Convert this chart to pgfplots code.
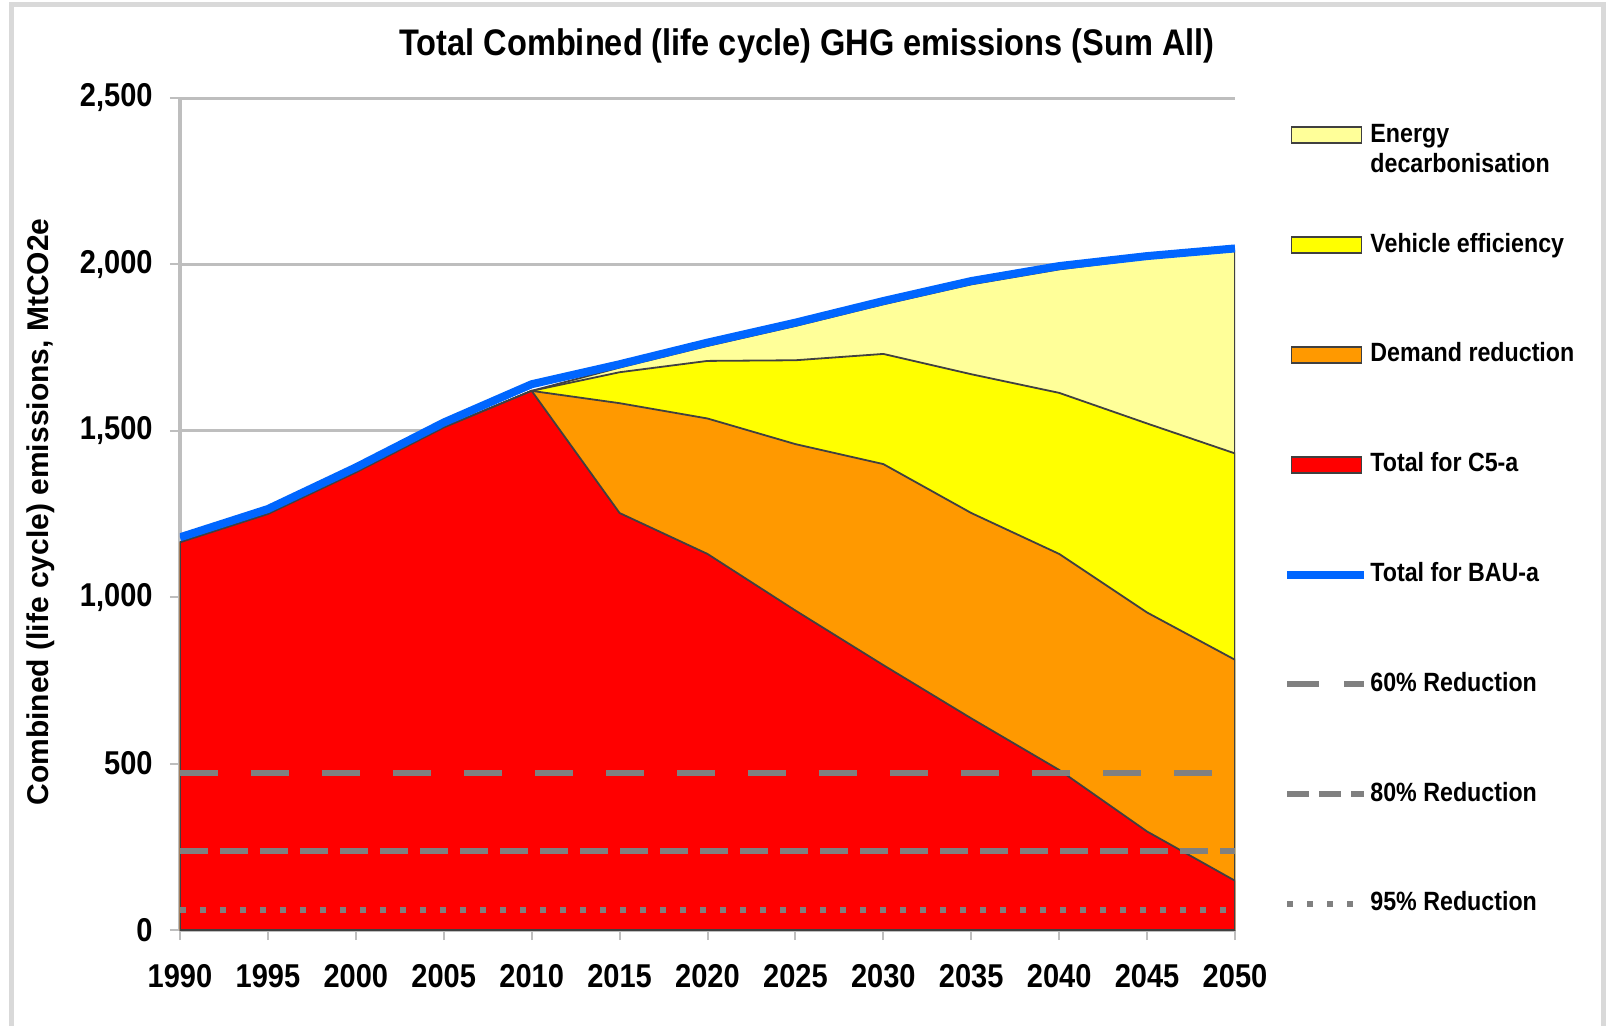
\documentclass[border=0pt]{standalone}
\usepackage{fontspec}
\setmainfont{Liberation Sans}[FakeStretch=0.88]
\newfontfamily\ylabfont{Liberation Sans}
\usepackage{pgfplots}
\usepackage{pgfplotstable}
\pgfplotsset{compat=1.18}

\definecolor{bau}{RGB}{0,102,255}
\definecolor{lyel}{RGB}{255,255,153}
\definecolor{yel}{RGB}{255,255,0}
\definecolor{ora}{RGB}{255,153,0}
\definecolor{redc}{RGB}{255,0,0}
\definecolor{redln}{RGB}{128,128,128}
\definecolor{axgray}{RGB}{190,190,190}

% tops of the stacked areas, MtCO2e
\pgfplotstableread{
year bau  energy vehicle demand c5
1990 1180 1165   1165    1165   1165
1995 1265 1250   1250    1250   1250
2000 1390 1375   1375    1375   1375
2005 1525 1510   1510    1510   1510
2010 1640 1620   1620    1620   1620
2015 1700 1690   1676    1583   1253
2020 1765 1755   1710    1537   1130
2025 1825 1815   1712    1460   960
2030 1890 1880   1731    1400   796
2035 1950 1940   1670    1253   636
2040 1995 1985   1614    1130   481
2045 2025 2018   1522    954    296
2050 2048 2040   1432    812    148
}\ghg

\pgfplotsset{
  arealeg/.style={legend image code/.code={\draw[##1] (2pt,-4pt) rectangle (37pt,4pt);}},
  lineleg/.style={legend image code/.code={\draw[##1] (0pt,0pt) -- (38.5pt,0pt);}},
  dashleg/.style={legend image code/.code={\draw[##1, dash pattern=#1] (0pt,0pt) -- (38.5pt,0pt);}},
}

\begin{document}
\begin{tikzpicture}
\begin{axis}[
  at={(0,0)}, anchor=south west,
  scale only axis, width=527.5pt, height=416pt,
  xmin=1990, xmax=2050, ymin=0, ymax=2500,
  xtick={1990,1995,...,2050}, ytick={0,500,...,2500},
  axis x line*=bottom, axis y line*=left,
  x axis line style={-, draw=axgray, line width=1pt},
  y axis line style={-, draw=axgray, line width=2pt},
  tick align=outside, major tick length=5pt,
  tick style={axgray, line width=1pt},
  ymajorgrids, grid style={axgray, line width=1.5pt},
  xticklabel style={font=\bfseries\fontsize{16.5}{18}\selectfont, anchor=center, yshift=-18pt,
    /pgf/number format/1000 sep={}, /pgf/number format/assume math mode=true},
  yticklabel style={font=\bfseries\fontsize{16.5}{18}\selectfont, anchor=east, inner sep=0pt, xshift=-8.5pt,
    /pgf/number format/1000 sep={,}, /pgf/number format/assume math mode=true},
  legend cell align=left,
  legend style={at={(1.0455,0.976)}, anchor=north west, draw=none, fill=none, inner sep=0pt,
    row sep=37.9pt, font=\bfseries\fontsize{13.2}{15}\selectfont,
    nodes={inner xsep=1pt, inner ysep=2pt, text height=10pt, text depth=3pt},
    cells={anchor=west}},
]
\addplot[arealeg, fill=lyel, draw=black!75, line width=0.9pt] table[x=year, y=energy]{\ghg} \closedcycle;
\addlegendentry{\begin{tabular}[t]{@{}l@{}}Energy\\decarbonisation\end{tabular}}
\addplot[arealeg, fill=yel, draw=black!75, line width=0.9pt] table[x=year, y=vehicle]{\ghg} \closedcycle;
\addlegendentry{Vehicle efficiency}
\addplot[arealeg, fill=ora, draw=black!75, line width=0.9pt] table[x=year, y=demand]{\ghg} \closedcycle;
\addlegendentry{Demand reduction}
\addplot[arealeg, fill=redc, draw=black!75, line width=0.9pt] table[x=year, y=c5]{\ghg} \closedcycle;
\addlegendentry{Total for C5-a}
\addplot[lineleg, bau, line width=4pt, line join=round] table[x=year, y=bau]{\ghg};
\addlegendentry{Total for BAU-a}
\addplot[dashleg={on 16pt off 12.5pt}, redln, line width=3pt, dash pattern=on 19pt off 16.5pt] coordinates {(1990,472) (2050,472)};
\addlegendentry{60\% Reduction}
\addplot[dashleg={on 11pt off 5pt}, redln, line width=3pt, dash pattern=on 14pt off 6pt] coordinates {(1990,236) (2050,236)};
\addlegendentry{80\% Reduction}
\addplot[lineleg, redln, line width=3pt, dash pattern=on 3pt off 7pt] coordinates {(1990,59) (2050,59)};
\addlegendentry{95\% Reduction}
\end{axis}
\node[font=\bfseries\fontsize{18.5}{20}\selectfont] at (313.5pt,442pt) {Total Combined (life cycle) GHG emissions (Sum All)};
\node[rotate=90, font=\ylabfont\bfseries\fontsize{15}{17}\selectfont] at (-69.5pt,209pt) {Combined (life cycle) emissions, MtCO2e};
\draw[black!15, line width=2.5pt] (-84pt,-60pt) rectangle (711.5pt,462.5pt);
\pgfresetboundingbox
\useasboundingbox (-90pt,-47.5pt) rectangle (714pt,465pt);
\end{tikzpicture}
\end{document}
